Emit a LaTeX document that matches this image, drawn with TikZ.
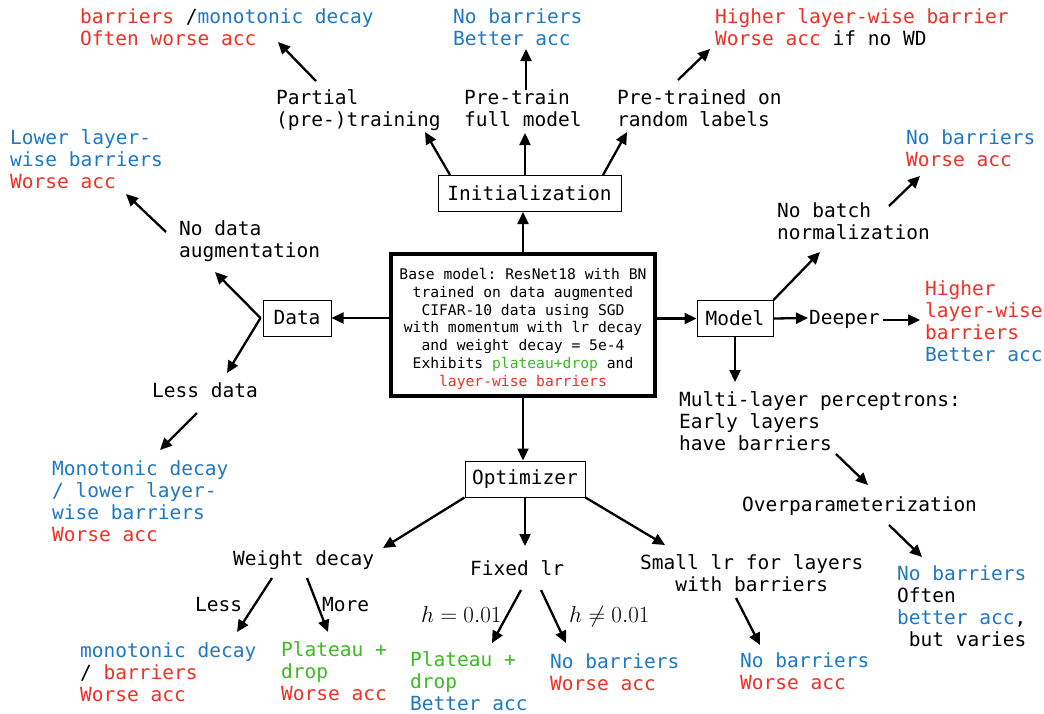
\RequirePackage{fix-cm}
\documentclass[tikz,border=0pt]{standalone}
\usepackage{fontspec}
\setmonofont{DejaVu Sans Mono}
\usetikzlibrary{arrows.meta}

\definecolor{ptred}{RGB}{238,48,38}
\definecolor{ptblue}{RGB}{30,120,195}
\definecolor{ptgreen}{RGB}{60,185,35}

\newcommand{\bigtt}{\ttfamily\fontsize{19.5}{22}\selectfont}
\newcommand{\smalltt}{\ttfamily\fontsize{14.66}{17.8}\selectfont}
\newcommand{\mathsize}{\fontsize{23}{27}\selectfont}
\newcommand{\good}[1]{{\color{ptblue}#1}}
\newcommand{\bad}[1]{{\color{ptred}#1}}
\newcommand{\plat}[1]{{\color{ptgreen}#1}}

\tikzstyle{factor}=[draw,line width=1pt,font=\bigtt,inner sep=0pt,
    minimum height=36pt]
\tikzstyle{base model}=[draw,line width=4.5pt,font=\smalltt,align=center,
    minimum width=264pt,minimum height=142pt,inner sep=0pt]
\tikzstyle{choice}=[inner sep=0pt,anchor=base west,align=left,font=\bigtt]
\tikzstyle{link}=[->,>={Triangle[length=12pt,width=11pt]},line width=2.3pt]
% base west of a choice = baseline of its last line
\newcommand{\choice}[4][]{
    \node[choice,#1] at (#2) (#3) {#4};
}
\newcommand{\link}[4]{
    \draw[link] ([shift={(#2)}]#1) -- ([shift={(#4)}]#3);
}

\begin{document}
\begin{tikzpicture}[x=1pt,y=-1pt]
    \useasboundingbox (0,0) rectangle (1044,713);
    \node[base model] at (523,325) (base) {\rule{0pt}{19pt}Base model: ResNet18 with BN\\
        trained on data augmented\\CIFAR-10 data using SGD\\
        with momentum with lr decay\\and weight decay = 5e-4\\
        Exhibits \plat{plateau+drop} and\\\bad{layer-wise barriers}};
    %
    \node[factor,minimum width=183pt] at (529.5,193.5) (init) {Initialization};
    \choice{276,126}{partial}{Partial\\(pre-)training}
    \choice{464,126}{pretrain}{Pre-train\\full model}
    \choice{617,126}{random}{Pre-trained on\\random labels}
    \choice{80,45}{rpartial}{\bad{barriers} /\good{monotonic decay}\\\bad{Often worse acc}}
    \choice{453,45}{rpretrain}{\good{No barriers}\\\good{Better acc}}
    \choice{715,45}{rrandom}{\bad{Higher layer-wise barrier}\\\bad{Worse acc} if no WD}
    %
    \node[factor,minimum width=68pt] at (297,318) (data) {Data};
    \choice{179,257}{nodata}{No data\\augmentation}
    \choice{152,397}{lessdata}{Less data}
    \choice{10,188}{rnodata}{\good{Lower layer-}\\\good{wise barriers}\\\bad{Worse acc}}
    \choice{52,541}{rlessdata}{\good{Monotonic decay}\\\good{/ lower layer-}\\
        \good{wise barriers}\\\bad{Worse acc}}
    %
    \node[factor,minimum width=76pt] at (735,318.5) (model) {Model};
    \choice{809,324}{deeper}{Deeper}
    \choice{925,361}{rdeeper}{\bad{Higher}\\\bad{layer-wise}\\\bad{barriers}\\\good{Better acc}}
    \choice{777,239}{nobn}{No batch\\normalization}
    \choice{906,166}{rnobn}{\good{No barriers}\\\bad{Worse acc}}
    \choice{679,450}{mlp}{Multi-layer perceptrons:\\Early layers\\have barriers}
    \choice{742,511}{overparam}{Overparameterization}
    \choice{897,646}{roverparam}{\good{No barriers}\\Often\\\good{better acc},\\\ but varies}
    %
    \node[factor,minimum width=120pt] at (525,479) (optim) {Optimizer};
    \choice{233,565}{wdecay}{Weight decay}
    \choice{470,575}{fixedlr}{Fixed lr}
    \choice[align=center]{640,591}{smalllr}{Small lr for layers\\with barriers}
    \choice{195,611}{less}{Less}
    \choice{322,611}{more}{More}
    \choice[font=\mathsize]{421,622}{hfix}{$h=0.01$}
    \choice[font=\mathsize]{569,622}{hvar}{$h\neq0.01$}
    \choice{80,701}{rless}{\good{monotonic decay}\\/ \bad{barriers}\\\bad{Worse acc}}
    \choice{281,700}{rmore}{\plat{Plateau +}\\\plat{drop}\\\bad{Worse acc}}
    \choice{410,710}{rfixl}{\plat{Plateau +}\\\plat{drop}\\\good{Better acc}}
    \choice{550,690}{rfixr}{\good{No barriers}\\\bad{Worse acc}}
    \choice{740,689}{rsmall}{\good{No barriers}\\\bad{Worse acc}}
    %
    \draw[link] (base.north) -- (base.north |- init.south);
    \link{init.north}{-79.5,0}{partial.base west}{149,6}
    \link{init.north}{-4.5,0}{pretrain.base west}{61,7}
    \link{init.north}{73.5,0}{random.base west}{10,6}
    \link{partial.base west}{40,-45}{rpartial.base west}{198,-3}
    \link{pretrain.base west}{62,-36}{rpretrain.base west}{73,4}
    \link{random.base west}{61,-46}{rrandom.base west}{-5,4}
    %
    \draw[link] (base.west |- data.east) -- (data.east);
    \link{data.west}{-2,0}{nodata.base west}{36,15}
    \link{data.west}{-2,0}{lessdata.base west}{75,-24}
    \link{nodata.base west}{-13,-25}{rnodata.base west}{116,6}
    \link{lessdata.base west}{45,16}{rlessdata.base west}{108,-91}
    %
    \draw[link] (base.east |- model.west) -- (model.west);
    \link{model.east}{0,0}{deeper.base west}{-1,-6}
    \link{deeper.base west}{74,-4}{rdeeper.base west}{-5,-41}
    \link{model.north east}{0,0}{nobn.base west}{43,13}
    \link{nobn.base west}{112,-33}{rnobn.base west}{14,10}
    \link{model.south}{0,0}{mlp.base west}{56,-68}
    \link{mlp.base west}{157,4}{overparam.base west}{126,-26}
    \link{overparam.base west}{147,14}{roverparam.base west}{25,-89}
    %
    \draw[link] (base.south) -- (base.south |- optim.north);
    \link{optim.south west}{0,0}{wdecay.base west}{150,-17}
    \link{optim.south}{0,0}{fixedlr.base west}{55,-29}
    \link{optim.south east}{0,0}{smalllr.base west}{25,-46}
    \link{wdecay.base west}{39,13}{rless.base west}{157,-69}
    \link{wdecay.base west}{74,13}{rmore.base west}{47,-68}
    \link{fixedlr.base west}{51,15}{rfixl.base west}{82,-67}
    \link{fixedlr.base west}{71,15}{rfixr.base west}{16,-47}
    \link{smalllr.base west}{96,7}{rsmall.base west}{20,-44}
\end{tikzpicture}
\end{document}
